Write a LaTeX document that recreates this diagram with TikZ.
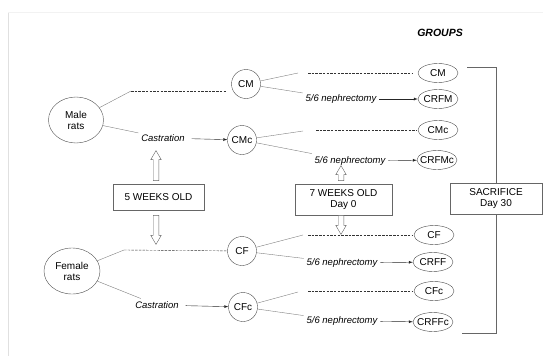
\documentclass[tikz,border=0pt]{standalone}
\usepackage{fontspec}
\setmainfont{Liberation Sans}
\usepackage{tikz}
\usetikzlibrary{arrows, shapes.geometric, shapes.arrows}

\newcommand{\grp}[1]{\makebox[0pt]{#1}}

\begin{document}
\begin{tikzpicture}[x=1pt, y=-1pt, font=\fontsize{10}{11}\selectfont,
  rat/.style={ellipse, draw=black!70, align=center, inner sep=0pt, minimum width=55pt, minimum height=46pt},
  sub/.style={ellipse, draw=black!70, inner sep=0pt, minimum size=29pt},
  grp/.style={ellipse, draw=black!70, inner sep=0pt, minimum width=40pt, minimum height=19pt},
  age/.style={rectangle, draw=black!60, align=center, minimum width=91pt, minimum height=26pt},
  op/.style={font=\fontsize{9.5}{11}\selectfont\itshape, inner sep=1pt, outer sep=2pt},
  fan/.style={draw=black!50},
  sham/.style={draw=black!80, dashed, dash pattern=on 2.5pt off 1.2pt},
  go/.style={draw=black!85, -latex},
  hollow/.style={shape=single arrow, draw=black!60, fill=white, inner xsep=0pt, inner ysep=2.6pt,
    single arrow head extend=2.4pt, single arrow tip angle=60}
]
\useasboundingbox (0,0) rectangle (543,356);
\draw[black!12] (8,356) -- (8,12);
\draw[black!5] (8,12) -- (543,12);

\node[font=\fontsize{10.5}{12}\selectfont\bfseries\itshape] (groups) at (440,33) {GROUPS};

\node[rat] (male) at (76,120) {Male\\rats};
\node[rat, minimum width=56pt] (female) at (72,271) {Female\\rats};

\node[sub] (CM) at (246,84) {CM};
\node[sub] (CMc) at (242,140) {CMc};
\node[sub] (CF) at (242,251) {CF};
\node[sub] (CFc) at (243,307) {CFc};

\node[op] (castM) at (163,138) {Castration};
\node[op] (castF) at (157,305) {Castration};

\node[age] (w5) at (158.5,197) {5 WEEKS OLD};
\node[age, minimum width=97pt, minimum height=31pt] (w7) at (343.5,199.5) {7 WEEKS OLD\\Day 0};
\node[age, minimum width=92pt, minimum height=31pt] (sac) at (496,198.5) {SACRIFICE\\Day 30};

\node[hollow, rotate=90, minimum height=30pt] (up5) at (156,168) {};
\node[hollow, rotate=-90, minimum height=29pt] (down5) at (156,227.5) {};
\node[hollow, rotate=90, minimum height=15pt] (up7) at (341,175.5) {};
\node[hollow, rotate=-90, minimum height=19pt] (down7) at (341,222.5) {};

\node[op] (nCM) at (341,99) {5/6 nephrectomy};
\node[op] (nCMc) at (350,161) {5/6 nephrectomy};
\node[op] (nCF) at (342,263) {5/6 nephrectomy};
\node[op] (nCFc) at (342,321) {5/6 nephrectomy};

\node[grp] (gCM) at (438,73) {\grp{CM}};
\node[grp] (gCRFM) at (438,99) {\grp{CRFM}};
\node[grp] (gCMc) at (438,130) {\grp{CMc}};
\node[grp] (gCRFMc) at (437,160) {\grp{CRFMc}};
\node[grp] (gCF) at (434,235) {\grp{CF}};
\node[grp] (gCRFF) at (433,262) {\grp{CRFF}};
\node[grp] (gCFc) at (434,291) {\grp{CFc}};
\node[grp] (gCRFFc) at (433,322) {\grp{CRFFc}};

\coordinate (mUp) at (131,91);
\coordinate (fUp) at (124,250);
\coordinate (cm1) at (298,73);
\coordinate (cm2) at (308,73);
\coordinate (cmc1) at (303,131);
\coordinate (cmc2) at (316,130);
\coordinate (cf1) at (303,235);
\coordinate (cf2) at (308,235);
\coordinate (cfc1) at (298,292);
\coordinate (cfc2) at (308,291);
\coordinate (bt) at (467,67);
\coordinate (bb) at (462,333);

\path[]
(male) edge[fan] (mUp)
(mUp) edge[sham, shorten >=5pt] (mUp -| CM.west)
(male) edge[fan] (castM)
(castM) edge[go, shorten <=4pt] (CMc)
(female) edge[fan] (fUp)
(fUp) edge[sham, shorten >=1pt] (CF)
(female) edge[fan] (castF)
(castF) edge[go, shorten <=4pt] (CFc)
;

\path[]
(CM) edge[fan] (cm1)
(CM) edge[fan] (nCM)
(cm2) edge[sham, shorten >=6pt] (gCM)
(nCM) edge[go] (gCRFM)
(CMc) edge[fan] (cmc1)
(CMc) edge[fan] (nCMc)
(cmc2) edge[sham, shorten >=1pt] (gCMc)
(nCMc) edge[go] (gCRFMc)
(CF) edge[fan] (cf1)
(CF) edge[fan] (nCF)
(cf2) edge[sham, shorten >=2pt] (gCF)
(nCF) edge[go] (gCRFF)
(CFc) edge[fan] (cfc1)
(CFc) edge[fan] (nCFc)
(cfc2) edge[sham, shorten >=2pt] (gCFc)
(nCFc) edge[go] (gCRFFc)
;

\draw[black!60] (bt) -| (sac);
\draw[black!60] (bb) -| (sac);
\end{tikzpicture}
\end{document}
